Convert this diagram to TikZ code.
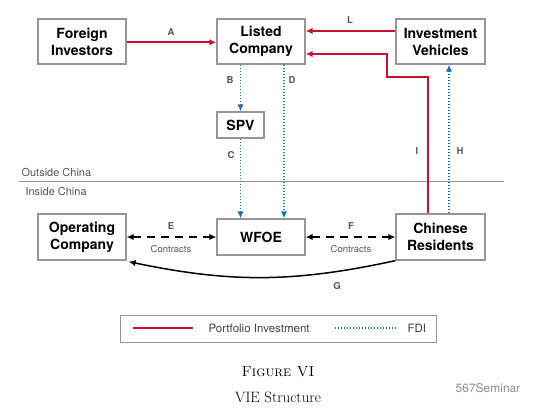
\documentclass[tikz,border=0pt]{standalone}
\usepackage{fontspec}
\setsansfont{TeX Gyre Heros}
\usepackage{tikz}
\usetikzlibrary{arrows.meta}

\definecolor{rougepf}{RGB}{200,16,46}
\definecolor{bleufdi}{RGB}{31,110,180}
\definecolor{grisbord}{RGB}{150,150,150}
\definecolor{grislettre}{RGB}{85,85,85}

\tikzset{
  boite/.style={draw=grisbord, line width=1.3pt, inner sep=0pt, align=center,
    minimum width=88pt, minimum height=45pt,
    font=\sffamily\bfseries\fontsize{14}{17}\selectfont},
  rouge/.style={draw=rougepf, line width=1.8pt, -{Latex[length=7pt,width=6.5pt]}},
  pointille/.style={draw=bleufdi, line width=1.4pt, dash pattern=on 1.4pt off 1.6pt,
    -{Latex[length=7pt,width=6.5pt]}},
  contrat/.style={draw=black, line width=1.5pt, dash pattern=on 8pt off 6pt,
    {Latex[length=7pt,width=6.5pt]}-{Latex[length=7pt,width=6.5pt]}},
  lettre/.style={text=grislettre, font=\sffamily\bfseries\fontsize{9.5}{11}\selectfont},
  petit/.style={text=grislettre, font=\sffamily\fontsize{9.5}{11}\selectfont},
  zone/.style={text=grislettre, font=\sffamily\fontsize{11}{13}\selectfont, anchor=west},
}

\begin{document}
\begin{tikzpicture}[x=1pt, y=-1pt]
    % Cadre de l'image
    \useasboundingbox (0,0) rectangle (556,413);

    % Les boites
    \node[boite] (etr) at (82,41.5) {Foreign\\Investors};
    \node[boite] (cot) at (261,41.5) {Listed\\Company};
    \node[boite, minimum width=89pt] (veh) at (440.5,41.5) {Investment\\Vehicles};
    \node[boite, minimum width=47pt, minimum height=26pt] (spv) at (240.5,125) {SPV};
    \node[boite, minimum height=46pt] (exp) at (82,237) {Operating\\Company};
    \node[boite, minimum height=36pt] (wfoe) at (261,237) {WFOE};
    \node[boite, minimum width=89pt, minimum height=46pt] (res) at (440.5,237) {Chinese\\Residents};

    % Frontiere
    \draw[grisbord, line width=1pt] (19,181) -- (504,181);
    \node[zone] (hors) at (18,172) {Outside China};
    \node[zone] (dans) at (22,191) {Inside China};

    % Investissement de portefeuille
    \draw[rouge] ([yshift=-0.8pt]etr.east) -- ([yshift=-0.8pt]cot.west);
    \draw[rouge] ([yshift=10.5pt]veh.west) -- ([yshift=10.5pt]cot.east);
    \coordinate (coude) at (387,77);
    \draw[rouge] ([xshift=-12.5pt]res.north) |- (coude) |- ([yshift=-12.5pt]cot.east);

    % IDE
    \draw[pointille] (cot.south -| spv.north) -- (spv.north);
    \draw[pointille] (spv.south) -- (wfoe.north -| spv.south);
    \draw[pointille] ([xshift=23pt]cot.south) -- ([xshift=23pt]wfoe.north);
    \draw[pointille] ([xshift=8.5pt]res.north) -- ([xshift=8.5pt]veh.south);

    % Contrats
    \draw[contrat] (exp) -- (wfoe);
    \draw[contrat] (wfoe) -- (res);
    \draw[line width=1.5pt, -{Latex[length=7pt,width=6.5pt]}]
      (res.south west) to[bend left=12] ([xshift=2pt,yshift=-1pt]exp.south east);

    % Les lettres
    \node[lettre] (la) at (171,32) {A};
    \node[lettre] (ll) at (350,20) {L};
    \node[lettre] (lb) at (230,80) {B};
    \node[lettre] (ld) at (292,80) {D};
    \node[lettre] (lc) at (231,155) {C};
    \node[lettre] (li) at (417,151) {I};
    \node[lettre] (lh) at (460,151) {H};
    \node[lettre] (le) at (171,226) {E};
    \node[lettre] (lf) at (351,226) {F};
    \node[lettre] (lg) at (337,286) {G};
    \node[petit] (ce) at (171,249) {Contracts};
    \node[petit] (cf) at (351,249) {Contracts};

    % Legende
    \draw[grisbord, line width=1pt] (120,315) rectangle (436,342);
    \draw[rougepf, line width=1.8pt] (133,328) -- (193,328);
    \node[zone, text=black!75, font=\sffamily\fontsize{11.5}{13}\selectfont] (pi) at (205,328) {Portfolio Investment};
    \draw[bleufdi, line width=1.4pt, dash pattern=on 1.4pt off 1.6pt] (335,328) -- (396,328);
    \node[zone, text=black!75, font=\sffamily\fontsize{11.5}{13}\selectfont] (fdi) at (404,328) {FDI};

    % Titre
    \node[font=\rmfamily\fontsize{14.5}{17}\selectfont] (fig) at (278,372) {\textsc{Figure VI}};
    \node[font=\rmfamily\fontsize{15}{18}\selectfont] (titre) at (278,397) {VIE Structure};
    \node[text=black!45, font=\sffamily\fontsize{12}{14}\selectfont] (wm) at (488,388) {567Seminar};
\end{tikzpicture}
\end{document}
